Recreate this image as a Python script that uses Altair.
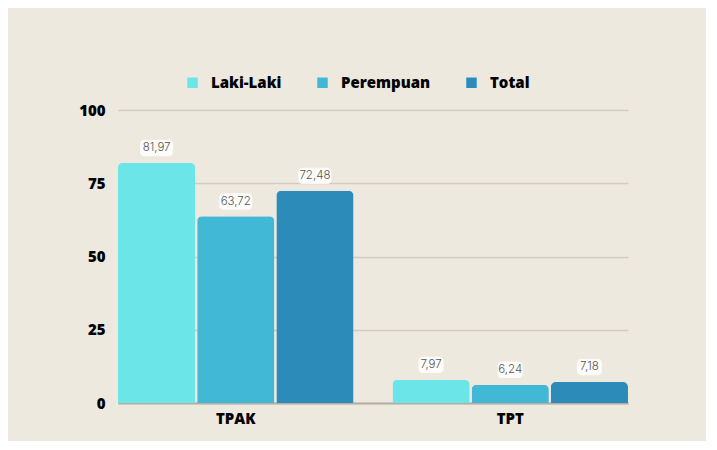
import altair as alt
import pandas as pd

categories = ["TPAK", "TPT"]
series = ["Laki-Laki", "Perempuan", "Total"]
values_tpak = [81.97, 63.72, 72.48]
values_tpt = [7.97, 6.24, 7.18]
colors = ["#6CE5E8", "#41B8D5", "#2D8BBA"]

rows = []
for cat, vals in zip(categories, [values_tpak, values_tpt]):
    for s, v in zip(series, vals):
        rows.append({"kategori": cat, "seri": s, "nilai": v,
                     "label": f"{v:.2f}".replace(".", ",")})
df = pd.DataFrame(rows)

x = alt.X("kategori:N", sort=categories, title=None,
          scale=alt.Scale(paddingInner=0.142, paddingOuter=0),
          axis=alt.Axis(labelAngle=0, labelFont="Open Sans", labelFontWeight=800,
                        labelFontSize=15, labelColor="#000", labelPadding=8,
                        ticks=False, domain=True, domainColor="#B3ADA3",
                        domainWidth=2))
xo = alt.XOffset("seri:N", sort=series, scale=alt.Scale(paddingInner=0.025))

bars = alt.Chart(df).mark_bar(cornerRadiusTopLeft=5, cornerRadiusTopRight=5).encode(
    x=x, xOffset=xo,
    y=alt.Y("nilai:Q", title=None, scale=alt.Scale(domain=[0, 100]),
            axis=alt.Axis(values=[0, 25, 50, 75, 100], ticks=False, domain=False,
                          labelFont="Open Sans", labelFontWeight=800, labelFontSize=15,
                          labelColor="#000", labelPadding=13, gridColor="#D3CCBF",
                          gridWidth=1.5)),
    color=alt.Color("seri:N", sort=series, scale=alt.Scale(domain=series, range=colors),
                    legend=alt.Legend(title=None, orient="none", direction="horizontal",
                                      legendX=67, legendY=-35, symbolType="square",
                                      symbolSize=110, symbolStrokeWidth=0,
                                      labelFont="Open Sans", labelFontWeight=800,
                                      labelFontSize=15, labelColor="#000",
                                      columnPadding=33, labelOffset=11)),
)

boxes = alt.Chart(df).transform_calculate(
    y0="datum.nilai + 2.25", y1="datum.nilai + 7.85",
    w="length(datum.label) * 8 - 7"
).mark_bar(color="#FFFFFF", opacity=0.85, cornerRadius=4).encode(
    x=x, xOffset=xo,
    y="y0:Q", y2="y1:Q",
    size=alt.Size("w:Q", scale=None, legend=None),
)

texts = alt.Chart(df).transform_calculate(
    yt="datum.nilai + 5.05"
).mark_text(font="Inter", fontSize=11.5, fontWeight=300, color="#555",
            baseline="middle").encode(
    x=x, xOffset=xo,
    y="yt:Q",
    text="label:N",
)

chart = alt.layer(bars, boxes, texts).properties(
    width=510, height=293,
    autosize=alt.AutoSizeParams(type="none"),
    padding={"left": 110, "top": 102, "right": 78, "bottom": 38},
    background="#EEE9DF",
).configure_view(stroke=None)

chart.save("out.html", embed_options={"renderer": "svg", "actions": False})
